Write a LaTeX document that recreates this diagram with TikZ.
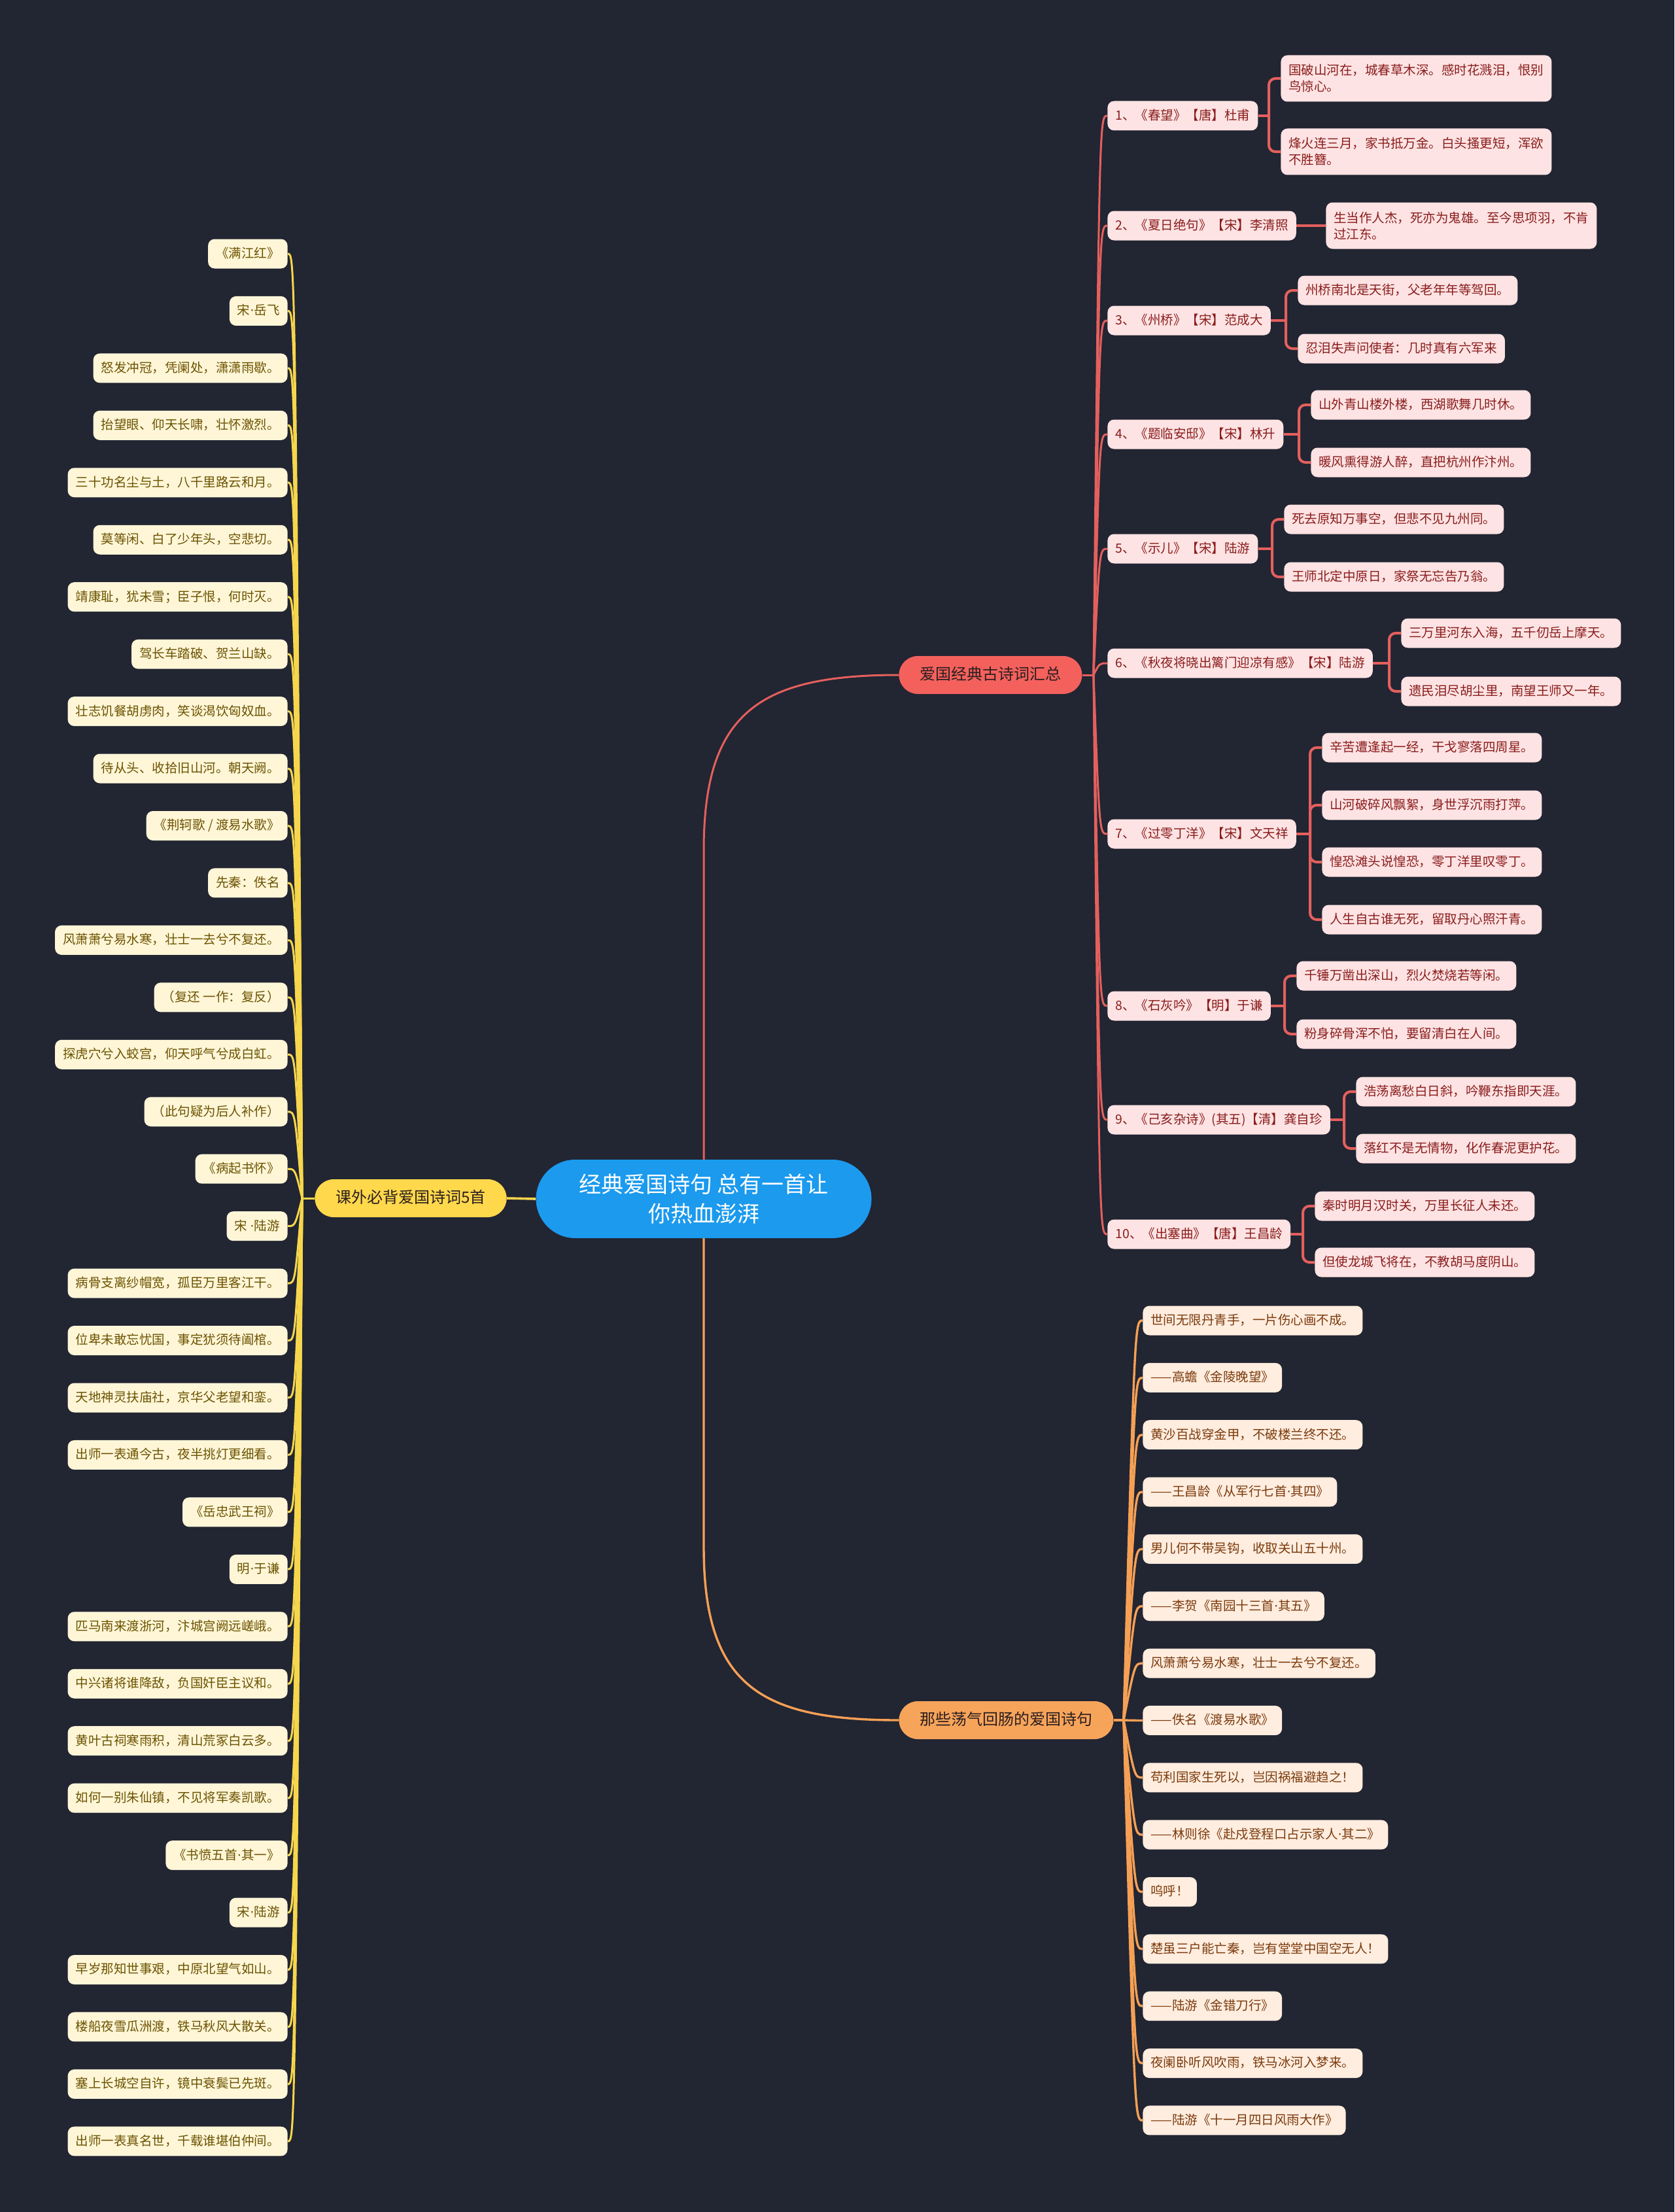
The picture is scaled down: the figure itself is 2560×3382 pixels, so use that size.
\documentclass[tikz,border=0pt]{standalone}
\usepackage{fontspec}
\newfontfamily\cjk{Noto Sans CJK SC}
\newfontfamily\dotfont{DejaVu Sans}
\newcommand\md{{\dotfont ·}}
\usetikzlibrary{calc}
\definecolor{bg}{HTML}{222532}
\definecolor{cblue}{HTML}{1B9AEE}
\definecolor{cred}{HTML}{F4615D}
\definecolor{credline}{HTML}{E4605D}
\definecolor{credfill}{HTML}{FDE3E3}
\definecolor{credtext}{HTML}{8A1C1C}
\definecolor{cyel}{HTML}{FFD84B}
\definecolor{cyelline}{HTML}{F6D64C}
\definecolor{cyelfill}{HTML}{FFF6D8}
\definecolor{cyeltext}{HTML}{6B5300}
\definecolor{corg}{HTML}{F7A45B}
\definecolor{corgline}{HTML}{F5A055}
\definecolor{corgfill}{HTML}{FFEDDF}
\definecolor{corgtext}{HTML}{7A3A0C}
\definecolor{cdark}{HTML}{2A1E1E}
\tikzset{
 smallbox/.style={font=\cjk\fontsize{9.75}{12.5}\selectfont, rounded corners=5pt, inner xsep=6pt, inner ysep=0pt, minimum height=22.5pt},
 oneline/.style={text height=8.2pt, text depth=1.8pt},
 twoline/.style={align=left, minimum height=35.5pt},
 redbox/.style={smallbox, fill=credfill, text=credtext, anchor=west},
 yelbox/.style={smallbox, oneline, fill=cyelfill, text=cyeltext, anchor=east},
 orgbox/.style={smallbox, oneline, fill=corgfill, text=corgtext, anchor=west},
 branch/.style={font=\cjk\fontsize{12}{14}\selectfont, rounded corners=14.5pt, minimum height=29pt, inner xsep=16pt, inner ysep=0pt, text height=9.5pt, text depth=2.5pt, text=cdark},
 redline/.style={draw=credline, line width=2pt, rounded corners=5pt},
 redspine/.style={draw=credline, line width=1.5pt},
 yelline/.style={draw=cyelline, line width=1.5pt},
 orgline/.style={draw=corgline, line width=1.7pt},
}
\newcommand\stubconn[2]{\draw[redline] (#1.east) -- ([xshift=-9pt]#2.west |- #1.east);}
\newcommand\leafconn[2]{\draw[redline] ([xshift=-9pt]#2.west |- #1.east) |- (#2.west);}
\begin{document}
\begin{tikzpicture}[x=0.5pt,y=-0.5pt]
\fill[bg] (0,0) rectangle (2560,3382);
\useasboundingbox (0,0) rectangle (2560,3382);

% main connectors
\draw[credline, line width=1.5pt] (1076,1790) -- (1076,1300) .. controls (1076,1090) and (1160,1032) .. (1374,1032);
\draw[corgline, line width=1.7pt] (1076,1876) -- (1076,2365) .. controls (1076,2575) and (1160,2630) .. (1374,2630);

% central node
\node[font=\cjk\fontsize{17}{22.5}\selectfont, align=center, text=white, fill=cblue, rounded corners=30pt, minimum width=256.5pt, minimum height=60pt] (c) at (1076,1833) {经典爱国诗句 总有一首让\\你热血澎湃};

% branches
\node[branch, fill=cyel] (yb) at (628,1832) {课外必背爱国诗词5首};
\node[branch, fill=cred, anchor=west] (rb) at (1374,1032) {爱国经典古诗词汇总};
\node[branch, fill=corg, anchor=west] (ob) at (1374,2630) {那些荡气回肠的爱国诗句};
\draw[cyelline, line width=1.8pt] (c.west) -- (yb.east);

% ---------- red branch ----------
\node[redbox,oneline] (t1) at (1693,177) {1、《春望》【唐】杜甫};
\node[redbox,twoline] (l1a) at (1958,120) {国破山河在，城春草木深。感时花溅泪，恨别\\鸟惊心。};
\node[redbox,twoline] (l1b) at (1958,232) {烽火连三月，家书抵万金。白头搔更短，浑欲\\不胜簪。};
\node[redbox,oneline] (t2) at (1693,345) {2、《夏日绝句》【宋】李清照};
\node[redbox,twoline] (l2a) at (2027,345) {生当作人杰，死亦为鬼雄。至今思项羽，不肯\\过江东。};
\node[redbox,oneline] (t3) at (1693,490) {3、《州桥》【宋】范成大};
\node[redbox,oneline] (l3a) at (1984,444) {州桥南北是天街，父老年年等驾回。};
\node[redbox,oneline] (l3b) at (1984,533) {忍泪失声问使者：几时真有六军来};
\node[redbox,oneline] (t4) at (1693,664) {4、《题临安邸》【宋】林升};
\node[redbox,oneline] (l4a) at (2004,619) {山外青山楼外楼，西湖歌舞几时休。};
\node[redbox,oneline] (l4b) at (2004,707) {暖风熏得游人醉，直把杭州作汴州。};
\node[redbox,oneline] (t5) at (1693,839) {5、《示儿》【宋】陆游};
\node[redbox,oneline] (l5a) at (1963,794) {死去原知万事空，但悲不见九州同。};
\node[redbox,oneline] (l5b) at (1963,882) {王师北定中原日，家祭无忘告乃翁。};
\node[redbox,oneline] (t6) at (1693,1014) {6、《秋夜将晓出篱门迎凉有感》【宋】陆游};
\node[redbox,oneline] (l6a) at (2142,968) {三万里河东入海，五千仞岳上摩天。};
\node[redbox,oneline] (l6b) at (2142,1057) {遗民泪尽胡尘里，南望王师又一年。};
\node[redbox,oneline] (t7) at (1693,1275) {7、《过零丁洋》【宋】文天祥};
\node[redbox,oneline] (l7a) at (2021,1143) {辛苦遭逢起一经，干戈寥落四周星。};
\node[redbox,oneline] (l7b) at (2021,1231) {山河破碎风飘絮，身世浮沉雨打萍。};
\node[redbox,oneline] (l7c) at (2021,1318) {惶恐滩头说惶恐，零丁洋里叹零丁。};
\node[redbox,oneline] (l7d) at (2021,1406) {人生自古谁无死，留取丹心照汗青。};
\node[redbox,oneline] (t8) at (1693,1538) {8、《石灰吟》【明】于谦};
\node[redbox,oneline] (l8a) at (1982,1492) {千锤万凿出深山，烈火焚烧若等闲。};
\node[redbox,oneline] (l8b) at (1982,1581) {粉身碎骨浑不怕，要留清白在人间。};
\node[redbox,oneline] (t9) at (1693,1712) {9、《己亥杂诗》(其五)【清】龚自珍};
\node[redbox,oneline] (l9a) at (2073,1669) {浩荡离愁白日斜，吟鞭东指即天涯。};
\node[redbox,oneline] (l9b) at (2073,1756) {落红不是无情物，化作春泥更护花。};
\node[redbox,oneline] (t10) at (1693,1887) {10、《出塞曲》【唐】王昌龄};
\node[redbox,oneline] (l10a) at (2010,1844) {秦时明月汉时关，万里长征人未还。};
\node[redbox,oneline] (l10b) at (2010,1930) {但使龙城飞将在，不教胡马度阴山。};

\draw[redspine] (rb.east) -- (1672,1032);
\foreach \n/\y in {1/177,2/345,3/490,4/664,5/839,6/1014,7/1275,8/1538,9/1712,10/1887}
  \draw[redspine] (1672,1032) .. controls (1681,\y) .. (t\n.west);

\stubconn{t1}{l1a}\leafconn{t1}{l1a}\leafconn{t1}{l1b}
\draw[redline] (t2.east) -- (l2a.west);
\stubconn{t3}{l3a}\leafconn{t3}{l3a}\leafconn{t3}{l3b}
\stubconn{t4}{l4a}\leafconn{t4}{l4a}\leafconn{t4}{l4b}
\stubconn{t5}{l5a}\leafconn{t5}{l5a}\leafconn{t5}{l5b}
\stubconn{t6}{l6a}\leafconn{t6}{l6a}\leafconn{t6}{l6b}
\stubconn{t7}{l7a}\leafconn{t7}{l7a}\leafconn{t7}{l7b}\leafconn{t7}{l7c}\leafconn{t7}{l7d}
\stubconn{t8}{l8a}\leafconn{t8}{l8a}\leafconn{t8}{l8b}
\stubconn{t9}{l9a}\leafconn{t9}{l9a}\leafconn{t9}{l9b}
\stubconn{t10}{l10a}\leafconn{t10}{l10a}\leafconn{t10}{l10b}

% ---------- yellow branch ----------
\draw[yelline] (yb.west) -- (462,1832);
\foreach \txt [count=\i] in {{《满江红》},{宋\md 岳飞},{怒发冲冠，凭阑处，潇潇雨歇。},{抬望眼、仰天长啸，壮怀激烈。},{三十功名尘与土，八千里路云和月。},{莫等闲、白了少年头，空悲切。},{靖康耻，犹未雪；臣子恨，何时灭。},{驾长车踏破、贺兰山缺。},{壮志饥餐胡虏肉，笑谈渴饮匈奴血。},{待从头、收拾旧山河。朝天阙。},{《荆轲歌 / 渡易水歌》},{先秦：佚名},{风萧萧兮易水寒，壮士一去兮不复还。},{（复还 一作：复反）},{探虎穴兮入蛟宫，仰天呼气兮成白虹。},{（此句疑为后人补作）},{《病起书怀》},{宋 \md 陆游},{病骨支离纱帽宽，孤臣万里客江干。},{位卑未敢忘忧国，事定犹须待阖棺。},{天地神灵扶庙社，京华父老望和銮。},{出师一表通今古，夜半挑灯更细看。},{《岳忠武王祠》},{明\md 于谦},{匹马南来渡浙河，汴城宫阙远嵯峨。},{中兴诸将谁降敌，负国奸臣主议和。},{黄叶古祠寒雨积，清山荒冢白云多。},{如何一别朱仙镇，不见将军奏凯歌。},{《书愤五首\md 其一》},{宋\md 陆游},{早岁那知世事艰，中原北望气如山。},{楼船夜雪瓜洲渡，铁马秋风大散关。},{塞上长城空自许，镜中衰鬓已先斑。},{出师一表真名世，千载谁堪伯仲间。}}
{
  \node[yelbox] (y\i) at (440,{388+(\i-1)*87.45}) {\txt};
  \draw[yelline] (462,1832) .. controls (451,{388+(\i-1)*87.45}) .. (y\i.east);
}

% ---------- orange branch ----------
\draw[orgline] (ob.east) -- (1718,2630);
\foreach \txt [count=\i] in {{世间无限丹青手，一片伤心画不成。},{——高蟾《金陵晚望》},{黄沙百战穿金甲，不破楼兰终不还。},{——王昌龄《从军行七首\md 其四》},{男儿何不带吴钩，收取关山五十州。},{——李贺《南园十三首\md 其五》},{风萧萧兮易水寒，壮士一去兮不复还。},{——佚名《渡易水歌》},{苟利国家生死以，岂因祸福避趋之！},{——林则徐《赴戍登程口占示家人\md 其二》},{呜呼！},{楚虽三户能亡秦，岂有堂堂中国空无人！},{——陆游《金错刀行》},{夜阑卧听风吹雨，铁马冰河入梦来。},{——陆游《十一月四日风雨大作》}}
{
  \node[orgbox] (o\i) at (1747,{2019+(\i-1)*87.35}) {\txt};
  \draw[orgline] (1718,2630) .. controls (1735,{2019+(\i-1)*87.35}) .. (o\i.west);
}
\end{tikzpicture}
\end{document}
